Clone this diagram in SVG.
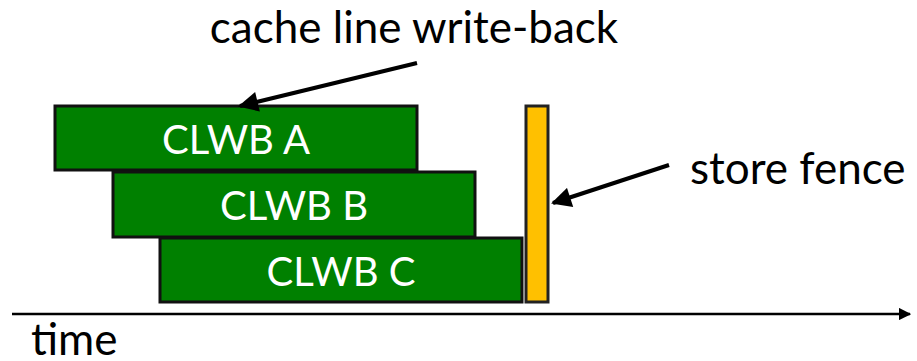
<svg xmlns="http://www.w3.org/2000/svg" width="917" height="361" viewBox="0 0 917 361">
  <style>
    .lbl { font-family: Lato, "Open Sans", "Liberation Sans", sans-serif; font-size: 44px; fill: #000; }
    .op rect { fill: #008000; stroke: #111; stroke-width: 3; }
    .op text { font-family: Lato, "Open Sans", "Liberation Sans", sans-serif; font-size: 40px; fill: #fff; text-anchor: middle; }
    .fence { fill: #ffc000; stroke: #222; stroke-width: 3; }
    .conn line { stroke: #000; stroke-width: 4; }
    .axis { stroke: #000; stroke-width: 2.5; }
  </style>
  <defs>
    <marker id="head" viewBox="0 0 10 10" refX="9" refY="5" markerWidth="5.5" markerHeight="5" orient="auto" markerUnits="strokeWidth">
      <path d="M0,0 L10,5 L0,10 z" fill="#000"/>
    </marker>
    <marker id="axisHead" viewBox="0 0 10 10" refX="9" refY="5" markerWidth="5" markerHeight="5" orient="auto" markerUnits="strokeWidth">
      <path d="M0,0 L10,5 L0,10 z" fill="#000"/>
    </marker>
  </defs>

  <g id="label-writeback"><text class="lbl" x="414" y="43" text-anchor="middle">cache line write-back</text></g>

  <g id="clwb-a" class="op">
    <rect x="55" y="106" width="362" height="64"/>
    <text x="236" y="154">CLWB A</text>
  </g>
  <g id="clwb-b" class="op">
    <rect x="113" y="172" width="362" height="65"/>
    <text x="294" y="220">CLWB B</text>
  </g>
  <g id="clwb-c" class="op">
    <rect x="160" y="238" width="362" height="64"/>
    <text x="341" y="286">CLWB C</text>
  </g>

  <g id="store-fence">
    <rect class="fence" x="526" y="106" width="22" height="196"/>
  </g>
  <g id="label-fence"><text class="lbl" x="690" y="184">store fence</text></g>

  <g id="time-axis">
    <line class="axis" x1="12" y1="314" x2="910" y2="314" marker-end="url(#axisHead)"/>
    <text class="lbl" x="31" y="355">time</text>
  </g>

  <g id="connectors" class="conn">
    <line x1="417" y1="63" x2="240" y2="106" marker-end="url(#head)"/>
    <line x1="669" y1="165" x2="553" y2="203" marker-end="url(#head)"/>
  </g>
</svg>
